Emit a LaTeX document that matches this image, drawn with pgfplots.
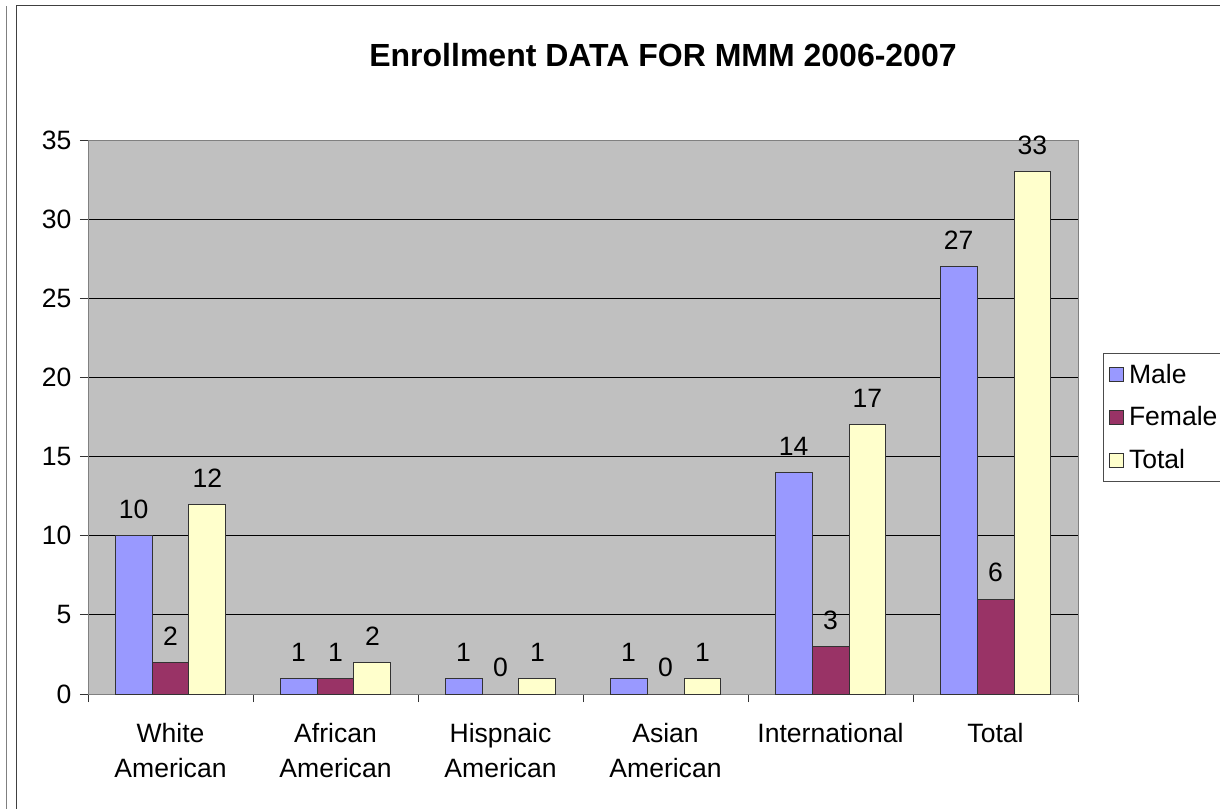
\documentclass[border=0pt]{standalone}
\usepackage{pgfplots}
\pgfplotsset{compat=1.18}
\usepackage{fontspec}
\setmainfont{Liberation Sans}
\definecolor{cmale}{HTML}{9999FF}
\definecolor{cfemale}{HTML}{993366}
\definecolor{ctotal}{HTML}{FFFFCC}
\definecolor{cbg}{HTML}{C0C0C0}
\definecolor{cborder}{HTML}{808080}
\begin{document}
\begin{tikzpicture}
\useasboundingbox (0,0) rectangle (915pt,606pt);
\fill[white] (0,0) rectangle (915pt,606pt);
\draw[cborder, line width=0.75pt] (4.5pt,-2pt) -- (4.5pt,601.5pt);
\draw[black!75, line width=0.75pt] (12pt,-2pt) -- (12pt,601.5pt) -- (920pt,601.5pt);
\node[font=\fontsize{24}{28}\selectfont\bfseries] at (497.25pt,564.75pt) {Enrollment DATA FOR MMM 2006-2007};
\begin{axis}[
  at={(66pt,85.5pt)}, anchor=south west,
  width=742.5pt, height=415.5pt, scale only axis,
  /pgf/number format/assume math mode=true,
  ybar, bar width=0.2242,
  xmin=-0.5, xmax=5.5, ymin=0, ymax=35,
  ytick={0,5,...,35},
  xtick={-0.5,0.5,...,5.5},
  xticklabels={{White\\American},{African\\American},{Hispnaic\\American},{Asian\\American},International,Total,{}},
  xticklabel style={align=center, font=\fontsize{19.9}{26.5}\selectfont, yshift=-12.5pt, xshift=61.875pt},
  yticklabel style={font=\fontsize{19.9}{24}\selectfont, xshift=-3pt},
  tick align=outside,
  xtick pos=bottom, ytick pos=left,
  major tick length=6pt,
  tick style={black!80, line width=0.75pt},
  axis line style={cborder, line width=0.75pt},
  axis background/.style={fill=cbg},
  ymajorgrids, xmajorgrids=false, grid style={black, line width=0.75pt},
  clip=false,
  nodes near coords,
  every node near coord/.append style={font=\fontsize{19.9}{24}\selectfont, black, yshift=9pt, xshift=0pt},
  legend style={at={(1.0253,0.6155)}, anchor=north west, draw=black!70, line width=0.75pt,
    font=\fontsize{19.9}{24}\selectfont, row sep=12pt, inner xsep=4pt, inner ysep=6pt,
    nodes={inner xsep=4pt}},
  legend cell align=left,
  legend image code/.code={\draw[#1, draw=black!80, line width=0.6pt] (0pt,-5.25pt) rectangle (10.5pt,5.25pt);},
]
\addplot[fill=cmale, draw=black!80, line width=0.75pt, bar shift=-0.2242] coordinates {(0,10) (1,1) (2,1) (3,1) (4,14) (5,27)};
\addplot[fill=cfemale, draw=black!80, line width=0.75pt, bar shift=0] coordinates {(0,2) (1,1) (2,0) (3,0) (4,3) (5,6)};
\addplot[fill=ctotal, draw=black!80, line width=0.75pt, bar shift=0.2242] coordinates {(0,12) (1,2) (2,1) (3,1) (4,17) (5,33)};
\legend{Male,Female,Total}
\end{axis}
\end{tikzpicture}
\end{document}
